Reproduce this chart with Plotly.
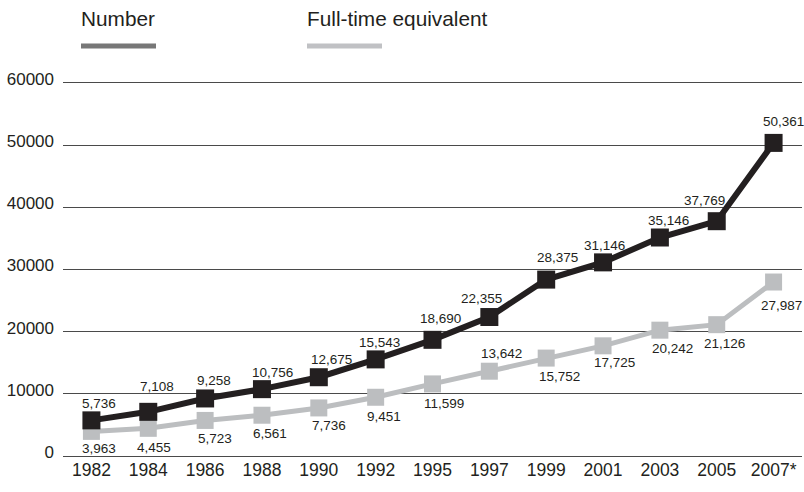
import plotly.graph_objects as go

# Category labels and series values
years = ["1982", "1984", "1986", "1988", "1990", "1992", "1995",
         "1997", "1999", "2001", "2003", "2005", "2007*"]
number = [5736, 7108, 9258, 10756, 12675, 15543, 18690,
          22355, 28375, 31146, 35146, 37769, 50361]
fte = [3963, 4455, 5723, 6561, 7736, 9451, 11599,
       13642, 15752, 17725, 20242, 21126, 27987]
y_ticks = [0, 10000, 20000, 30000, 40000, 50000, 60000]

# Value-label placement (pixel nudges: right, up)
number_label_shift = [(8, 17), (9, 25), (9, 18), (11, 17), (13, 18), (4, 17), (8, 21),
                      (-8, 19), (11, 22), (1, 17), (9, 17), (-12, 21), (10, 21)]
fte_label_shift = [(8, -17), (6, -19), (10, -18), (8, -18), (10, -18), (8, -19), (11, -20),
                   (12, 18), (13, -18), (11, -17), (13, -18), (8, -19), (8, -23)]

DARK = "#231f20"
LIGHT = "#bcbec0"
FONT = "Liberation Sans, Arial, sans-serif"

W, H = 804, 492
# the y range is padded slightly so the 0 and 60000 grid lines sit inside the plot area
Y_PAD = 800
M_L, M_R, M_T, M_B = 63, 2, 78, 31
PW, PH = W - M_L - M_R, H - M_T - M_B


def px_x(x):
    return (x - M_L) / PW


def px_y(y):
    return (H - M_B - y) / PH


fig = go.Figure()

fig.add_trace(go.Scatter(
    x=years, y=fte, mode="lines+markers", name="Full-time equivalent",
    line=dict(color=LIGHT, width=5),
    marker=dict(symbol="square", size=17, color=LIGHT),
    cliponaxis=False, showlegend=False,
))
fig.add_trace(go.Scatter(
    x=years, y=number, mode="lines+markers", name="Number",
    line=dict(color=DARK, width=6),
    marker=dict(symbol="square", size=18, color=DARK),
    cliponaxis=False, showlegend=False,
))

# Value labels; annotation x uses the category index so "1982" etc. are not read as numbers
annotations = []
for series, shifts in ((number, number_label_shift), (fte, fte_label_shift)):
    for i, (v, (dx, dy)) in enumerate(zip(series, shifts)):
        annotations.append(dict(x=i, y=v, text=f"{v:,}", showarrow=False,
                                xshift=dx, yshift=dy,
                                font=dict(family=FONT, size=13.5, color=DARK)))

# Legend: text over a short swatch line
legend_items = [("Number", 79, 158, "#777777"),
                ("Full-time equivalent", 305, 384, "#c0c1c4")]
shapes = []
for label, x0, x1, col in legend_items:
    annotations.append(dict(xref="paper", yref="paper", x=px_x(x0), y=px_y(18),
                            xanchor="left", yanchor="middle", text=label,
                            showarrow=False,
                            font=dict(family=FONT, size=20.8, color=DARK)))
    shapes.append(dict(type="line", xref="paper", yref="paper",
                       x0=px_x(x0 + 2), x1=px_x(x1 - 2), y0=px_y(46), y1=px_y(46),
                       line=dict(color=col, width=5)))

fig.update_layout(
    width=W, height=H,
    margin=dict(l=M_L, r=M_R, t=M_T, b=M_B),
    paper_bgcolor="white", plot_bgcolor="white",
    annotations=annotations, shapes=shapes,
    xaxis=dict(type="category", range=[-0.5, 12.5], showgrid=False,
               showline=False, zeroline=False, ticks="",
               ticklabelstandoff=-4,
               tickfont=dict(family=FONT, size=17.5, color=DARK)),
    yaxis=dict(range=[-Y_PAD, 60000 + Y_PAD], tickvals=y_ticks,
               ticktext=[str(t) for t in y_ticks],
               showgrid=True, gridcolor="#4a4a4a", gridwidth=1.3,
               zeroline=False, showline=False, ticks="",
               ticklabelstandoff=8, ticklabelshift=-4,
               tickfont=dict(family=FONT, size=17, color=DARK)),
)

fig.write_html("out.html")
